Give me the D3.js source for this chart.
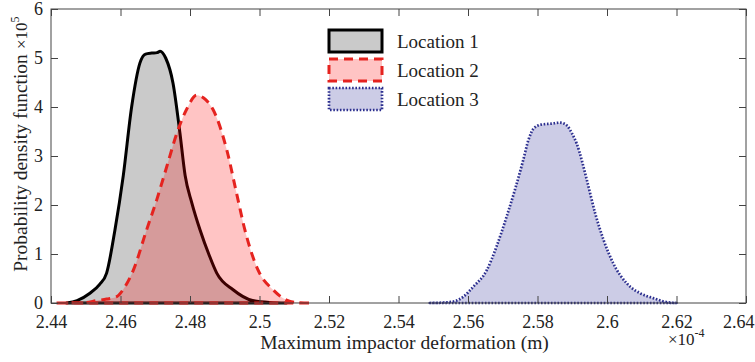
<html>
<head>
<script src="https://d3js.org/d3.v7.min.js"></script>
<style>
  body { margin: 0; background: #fff; }
  svg text { font-family: "Liberation Serif", "Times New Roman", serif !important; fill: #222; }
  .axis line { stroke: #444; }
  .axis .domain { stroke: none; }
</style>
</head>
<body>
<svg id="chart" width="755" height="362"></svg>
<script>
// values (x in units of 1e-4 m, pdf in units of 1e5)
const loc1X = [2.4445, 2.4475, 2.4512, 2.4540, 2.4560, 2.4584, 2.4608, 2.4632, 2.4656, 2.4672, 2.4690, 2.4705, 2.4714, 2.4730, 2.4751, 2.4771, 2.4786, 2.4805, 2.4829, 2.4855, 2.4877, 2.4924, 2.4980, 2.5030, 2.5078];
const loc1Y = [0, 0.05, 0.2, 0.38, 0.61, 1.49, 2.6, 4.0, 4.9, 5.08, 5.1, 5.11, 5.14, 5.0, 4.49, 3.47, 2.6, 2.05, 1.49, 0.98, 0.61, 0.27, 0.05, 0.01, 0];

const loc2X = [2.4416, 2.4500, 2.4531, 2.4560, 2.4589, 2.4610, 2.4637, 2.4675, 2.4704, 2.4733, 2.4762, 2.4790, 2.4819, 2.4845, 2.4867, 2.4906, 2.4934, 2.4958, 2.4996, 2.5039, 2.5078, 2.5110, 2.5150];
const loc2Y = [0, 0.01, 0.05, 0.08, 0.13, 0.3, 0.67, 1.49, 2.1, 2.78, 3.46, 3.95, 4.24, 4.15, 3.94, 3.12, 2.24, 1.49, 0.67, 0.27, 0.06, 0.01, 0];

const loc3X = [2.5490, 2.5530, 2.5558, 2.5587, 2.5615, 2.5654, 2.5682, 2.5711, 2.5735, 2.5759, 2.5774, 2.5790, 2.5810, 2.5840, 2.5865, 2.5885, 2.5900, 2.5913, 2.5942, 2.5966, 2.5990, 2.6018, 2.6057, 2.6095, 2.6133, 2.6170, 2.6200];
const loc3Y = [0, 0.01, 0.03, 0.13, 0.33, 0.67, 1.15, 1.76, 2.31, 2.92, 3.33, 3.57, 3.64, 3.66, 3.68, 3.62, 3.45, 3.25, 2.51, 1.83, 1.29, 0.81, 0.40, 0.20, 0.10, 0.02, 0];

const seriesNames = ["Location 1", "Location 2", "Location 3"];
const xTicks = [2.44, 2.46, 2.48, 2.5, 2.52, 2.54, 2.56, 2.58, 2.6, 2.62, 2.64];
const yTicks = [0, 1, 2, 3, 4, 5, 6];

const svg = d3.select("#chart");
const plot = {left: 51, right: 746, top: 9, bottom: 303};
const serif = '"Liberation Serif", "Times New Roman", serif';

const x = d3.scaleLinear().domain([2.44, 2.64]).range([plot.left, plot.right]);
const y = d3.scaleLinear().domain([0, 6]).range([plot.bottom, plot.top]);

const styles = [
  {fill: "rgb(128,128,128)", fo: 0.42, stroke: "#000", dash: null, sw: 3},
  {fill: "rgb(255,0,0)", fo: 0.23, stroke: "#e5231f", dash: "9,6", sw: 3},
  {fill: "rgb(0,0,128)", fo: 0.2, stroke: "#2c2f8f", dash: "1.6,1.7", sw: 2.7}
];
const series = [[loc1X, loc1Y], [loc2X, loc2Y], [loc3X, loc3Y]];

const line = d3.line()
  .x(d => x(d[0]))
  .y(d => y(d[1]))
  .curve(d3.curveMonotoneX);

// shaded pdf shapes, closed along zero
series.forEach((s, i) => {
  const pts = s[0].map((v, j) => [v, s[1][j]]);
  const st = styles[i];
  svg.append("path")
    .attr("d", line(pts) + "Z")
    .attr("fill", st.fill)
    .attr("fill-opacity", st.fo)
    .attr("stroke", st.stroke)
    .attr("stroke-width", st.sw)
    .attr("stroke-dasharray", st.dash)
    .attr("stroke-linejoin", "round");
});

// axes, MATLAB style box with inward ticks
const fmt = d3.format("~g");
const xAxisG = svg.append("g").attr("class", "axis")
  .attr("transform", "translate(0," + plot.bottom + ")")
  .call(d3.axisBottom(x).tickValues(xTicks).tickSize(-7).tickPadding(12).tickFormat(fmt));
xAxisG.attr("font-family", serif).attr("font-size", 18);
xAxisG.selectAll("text").attr("fill", "#222");
// last label sits against the window edge
xAxisG.selectAll(".tick text").filter(d => d === 2.64).attr("text-anchor", "end").attr("x", 8);

svg.append("g").attr("class", "axis")
  .attr("transform", "translate(0," + plot.top + ")")
  .call(d3.axisTop(x).tickValues(xTicks).tickSize(-7).tickFormat(""));

const yAxisG = svg.append("g").attr("class", "axis")
  .attr("transform", "translate(" + plot.left + ",0)")
  .call(d3.axisLeft(y).tickValues(yTicks).tickSize(-7).tickPadding(8).tickFormat(fmt));
yAxisG.attr("font-family", serif).attr("font-size", 18);
yAxisG.selectAll("text").attr("fill", "#222");

svg.append("g").attr("class", "axis")
  .attr("transform", "translate(" + plot.right + ",0)")
  .call(d3.axisRight(y).tickValues(yTicks).tickSize(-7).tickFormat(""));

svg.append("rect")
  .attr("x", plot.left).attr("y", plot.top)
  .attr("width", plot.right - plot.left).attr("height", plot.bottom - plot.top)
  .attr("fill", "none").attr("stroke", "#444").attr("stroke-width", 1);

// labels
svg.append("text")
  .attr("x", (plot.left + plot.right) / 2 + 6).attr("y", 349)
  .attr("text-anchor", "middle").style("font-size", "19.5px")
  .text("Maximum impactor deformation (m)");

let xe = svg.append("text").attr("x", 668).attr("y", 345).style("font-size", "17px");
xe.append("tspan").text("×10");
xe.append("tspan").attr("dy", -8).style("font-size", "12px").text("-4");

svg.append("text")
  .attr("transform", "translate(27,163) rotate(-90)")
  .attr("text-anchor", "middle").style("font-size", "19.5px")
  .text("Probability density function");

let ye = svg.append("text").attr("transform", "translate(27,49) rotate(-90)").style("font-size", "17px");
ye.append("tspan").text("×10");
ye.append("tspan").attr("dy", -8).style("font-size", "12px").text("5");

// legend
const legend = svg.append("g").attr("transform", "translate(329,30)");
seriesNames.forEach((name, i) => {
  const st = styles[i];
  const g = legend.append("g").attr("transform", "translate(0," + (i * 29) + ")");
  g.append("rect").attr("x", 0).attr("y", 0).attr("width", 53).attr("height", 22)
    .attr("fill", st.fill).attr("fill-opacity", st.fo)
    .attr("stroke", st.stroke).attr("stroke-width", st.sw)
    .attr("stroke-dasharray", st.dash);
  g.append("text").attr("x", 68).attr("y", 18).style("font-size", "19px").text(name);
});
</script>
</body>
</html>
